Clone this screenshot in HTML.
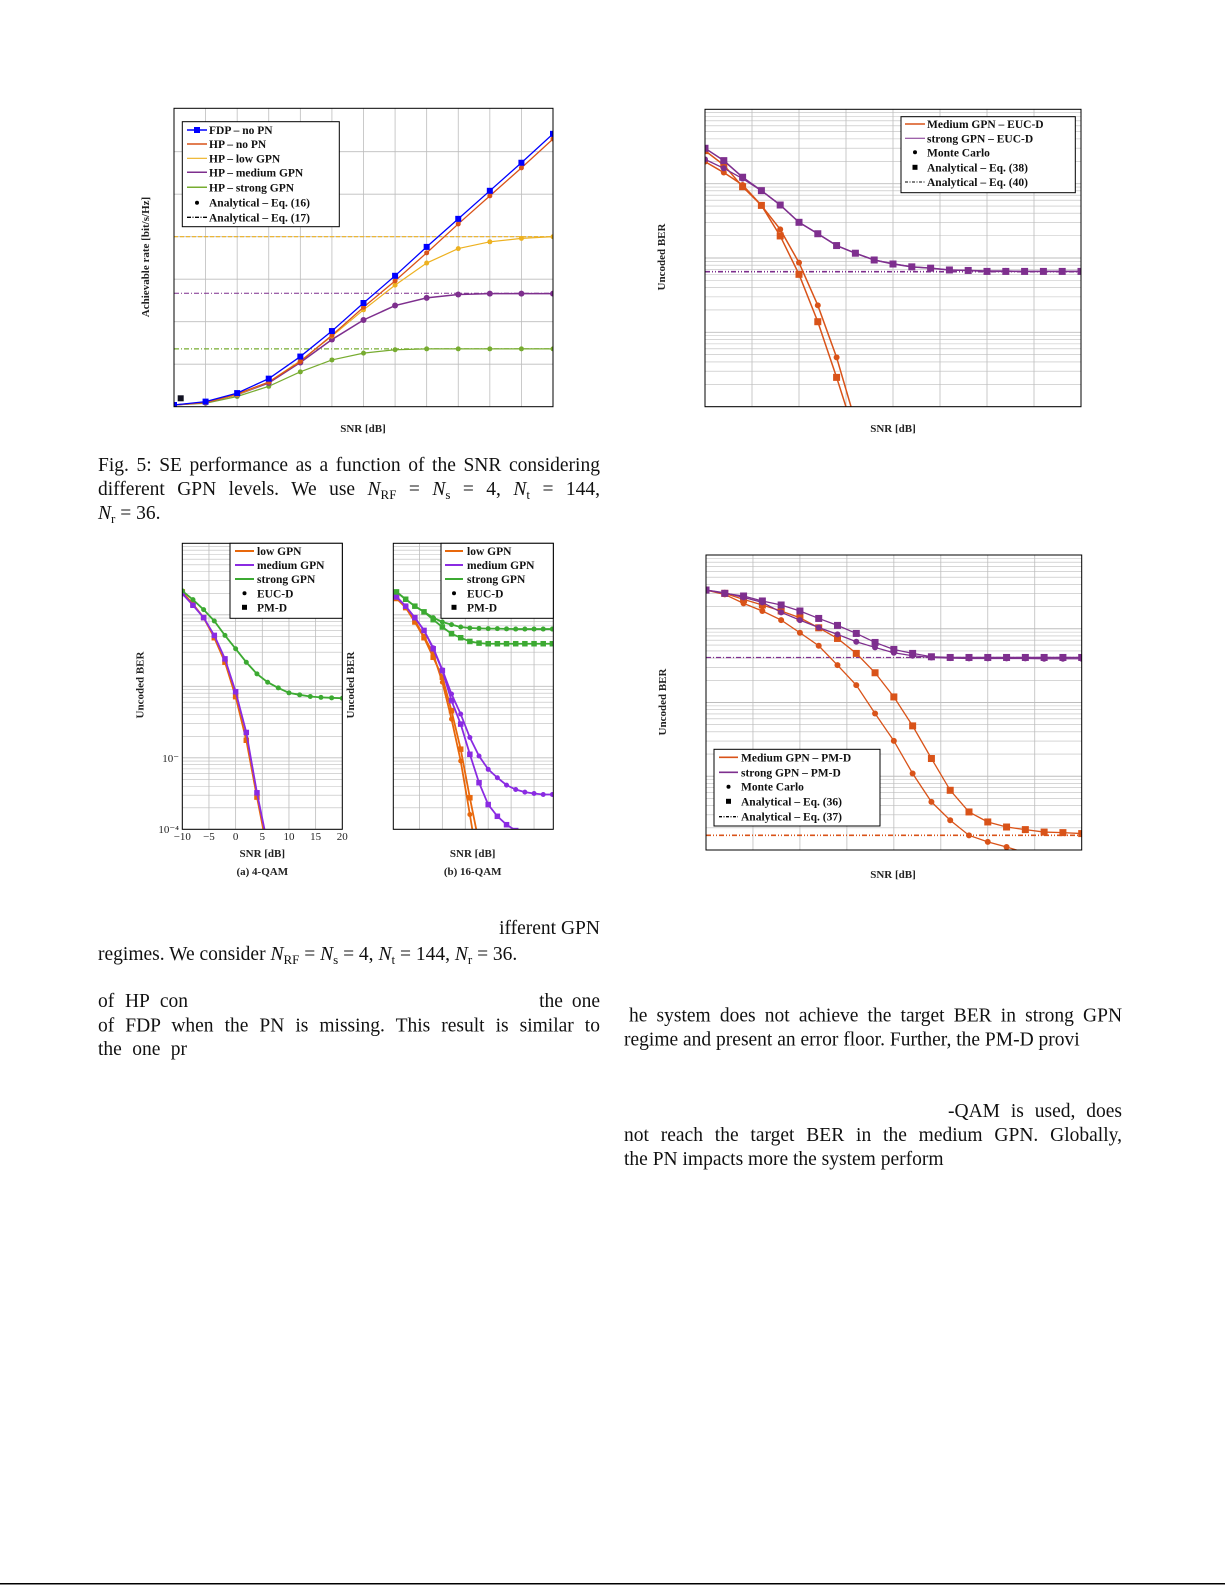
<!DOCTYPE html>
<html><head><meta charset="utf-8">
<style>
html,body{margin:0;padding:0;background:#fff;}
#page{position:relative;width:1225px;height:1585px;overflow:hidden;}
svg text{font-family:"Liberation Serif",serif;}
.body{font-size:19.5px;fill:#111;}
.lg{font-size:11.5px;font-weight:bold;fill:#111;}
.ax{font-size:11px;font-weight:bold;fill:#222;}
.tk{font-size:11px;fill:#222;}
</style></head>
<body>
<div id="page">
<svg id="svg" width="1225" height="1585" viewBox="0 0 1225 1585" xmlns="http://www.w3.org/2000/svg">
<defs>
<clipPath id="clip1"><rect x="174" y="108.3" width="379" height="298.4"/></clipPath>
<clipPath id="clip2"><rect x="705" y="109.3" width="376" height="297.4"/></clipPath>
<clipPath id="clip3a"><rect x="182.3" y="543.3" width="160" height="286"/></clipPath>
<clipPath id="clip3b"><rect x="393.3" y="543.3" width="160" height="286"/></clipPath>
<clipPath id="clip4"><rect x="706" y="555" width="375.7" height="295"/></clipPath>
</defs>
<g id="g1"></g>
<g id="g2"></g>
<g id="g3a"></g>
<g id="g3b"></g>
<g id="g4"></g>

<g>
<text class="body jst" data-w="502" x="98" y="471">Fig. 5: SE performance as a function of the SNR considering</text>
<text class="body jst" data-w="502" x="98" y="495">different GPN levels. We use <tspan font-style="italic">N</tspan><tspan font-size="13" dy="4">RF</tspan><tspan dy="-4"> = </tspan><tspan font-style="italic">N</tspan><tspan font-size="13" dy="4">s</tspan><tspan dy="-4"> = 4, </tspan><tspan font-style="italic">N</tspan><tspan font-size="13" dy="4">t</tspan><tspan dy="-4"> = 144,</tspan></text>
<text class="body" x="98" y="519"><tspan font-style="italic">N</tspan><tspan font-size="13" dy="4">r</tspan><tspan dy="-4"> = 36.</tspan></text>
</g>
<g>
<text class="body" x="600" y="934" text-anchor="end">ifferent GPN</text>
<text class="body" x="98" y="960">regimes. We consider <tspan font-style="italic">N</tspan><tspan font-size="13" dy="4">RF</tspan><tspan dy="-4"> = </tspan><tspan font-style="italic">N</tspan><tspan font-size="13" dy="4">s</tspan><tspan dy="-4"> = 4, </tspan><tspan font-style="italic">N</tspan><tspan font-size="13" dy="4">t</tspan><tspan dy="-4"> = 144, </tspan><tspan font-style="italic">N</tspan><tspan font-size="13" dy="4">r</tspan><tspan dy="-4"> = 36.</tspan></text>
</g>
<g>
<text class="body jst" data-w="90" x="98" y="1007">of HP con</text>
<text class="body" x="600" y="1007" text-anchor="end" word-spacing="4">the one</text>
<text class="body jst" data-w="502" x="98" y="1031.5">of FDP when the PN is missing. This result is similar to</text>
<text class="body jst" data-w="89" x="98" y="1055">the one pr</text>
</g>
<g>
<text class="body jst" data-w="493" x="629" y="1021.5">he system does not achieve the target BER in strong GPN</text>
<text class="body" x="624" y="1045.5">regime and present an error floor. Further, the PM-D provi</text>
<text class="body jst" data-w="174" x="948" y="1117">-QAM is used, does</text>
<text class="body jst" data-w="498" x="624" y="1141">not reach the target BER in the medium GPN. Globally,</text>
<text class="body" x="624" y="1165">the PN impacts more the system perform</text>
</g>
<line x1="0" y1="1583.7" x2="1225" y2="1583.7" stroke="#000" stroke-width="1.5"/>
</svg>
</div>
<script>
// ===== Chart 1 data (achievable rate) =====
const snr1 = [-20,-15,-10,-5,0,5,10,15,20,25,30,35,40];
const rateFDP = [0.2,0.6,1.6,3.3,5.9,8.9,12.2,15.4,18.8,22.1,25.4,28.7,32.1];
const rateHPnoPN = [0.2,0.5,1.5,2.9,5.3,8.4,11.7,14.8,18.1,21.5,24.8,28.1,31.5];
const rateLow = [0.2,0.5,1.4,2.9,5.4,8.3,11.4,14.3,16.9,18.6,19.4,19.8,20.0];
const rateMed = [0.2,0.5,1.4,2.8,5.2,7.9,10.2,11.9,12.8,13.2,13.3,13.3,13.3];
const rateStrong = [0.2,0.4,1.2,2.4,4.1,5.5,6.3,6.7,6.8,6.8,6.8,6.8,6.8];
const rateAsym = [20.0,13.35,6.8];
const rateTicks = [5,10,15,20,25,30];

// ===== Chart 2 data (EUC-D BER) =====
const snr2 = [0,2,4,6,8,10,12,14,16,18,20,22,24,26,28,30,32,34,36,38,40];
const berStrongMC = [0.212,0.161,0.117,0.0805,0.0516,0.0302,0.0212,0.0147,0.0116,0.0094,0.0084,0.0076,0.0073,0.0069,0.0068,0.0067,0.0067,0.0066,0.0066,0.0066,0.0066];
const berStrongAn = [0.299,0.204,0.122,0.0805,0.0516,0.0302,0.0212,0.0147,0.0116,0.0094,0.0083,0.0076,0.0073,0.0069,0.0068,0.0066,0.0066,0.0066,0.0066,0.0066,0.0066];
const berMedMC = [0.198,0.141,0.096,0.051,0.0243,0.00865,0.00231,0.00046,0.000063];
const berMedAn = [0.278,0.178,0.091,0.051,0.0198,0.00603,0.00139,0.000248,0.00004];
const berFloor2 = [0.00655];

// ===== Chart 3a data (4-QAM) =====
const snr3a = [-10,-8,-6,-4,-2,0,2,4,6,8,10,12,14,16,18,20];
const qam4Strong = [0.216,0.163,0.118,0.0819,0.0515,0.0335,0.0217,0.0149,0.0114,0.0095,0.0081,0.0076,0.0072,0.0070,0.0069,0.0068];
const qam4Low = [0.209,0.141,0.0912,0.0478,0.0217,0.00716,0.00176,0.000282,0.000049];
const qam4Med = [0.198,0.136,0.0912,0.0515,0.0242,0.0084,0.00226,0.000324,0.000061];
const qam4Ticks = [-10,-5,0,5,10,15,20];

// ===== Chart 3b data (16-QAM) =====
const snr3b = [-10,-8,-6,-4,-2,0,2,4,6,8,10,12,14,16,18,20,22,24];
const qam16StrongEuc = [0.209,0.165,0.132,0.110,0.0912,0.0793,0.0728,0.0675,0.0653,0.0646,0.0640,0.0640,0.0636,0.0632,0.0632,0.0632,0.0632,0.0632];
const qam16StrongPm = [0.209,0.165,0.132,0.110,0.0855,0.0675,0.0543,0.0478,0.0424,0.0402,0.0394,0.0394,0.0394,0.0394,0.0394,0.0394,0.0394,0.0394];
const qam16LowEuc = [0.178,0.132,0.0837,0.0499,0.0285,0.0114,0.00348,0.000903,0.000161,0.000027];
const qam16LowPm = [0.169,0.126,0.0793,0.0478,0.0255,0.0134,0.00455,0.00132,0.000276,0.000064];
const qam16MedEuc = [0.178,0.132,0.0912,0.0605,0.0346,0.0170,0.0078,0.00409,0.00192,0.00106,0.00069,0.000526,0.000415,0.000360,0.000331,0.000317,0.000307,0.000307];
const qam16MedPm = [0.178,0.132,0.0912,0.0605,0.0335,0.0166,0.0063,0.00296,0.00112,0.000448,0.000222,0.000152,0.000116,0.000096];

// ===== Chart 4 data (PM-D BER) =====
const snr4 = [0,2,4,6,8,10,12,14,16,18,20,22,24,26,28,30,32,34,36,38,40];
const pmStrongMC = [0.335,0.308,0.266,0.228,0.167,0.131,0.104,0.0838,0.0667,0.0558,0.0472,0.0430,0.0408,0.0400,0.0396,0.0396,0.0396,0.0396,0.0392,0.0392,0.0392];
const pmStrongAn = [0.335,0.302,0.278,0.238,0.210,0.174,0.138,0.111,0.0864,0.0652,0.0524,0.0463,0.0417,0.0408,0.0408,0.0408,0.0408,0.0408,0.0408,0.0408,0.0408];
const pmMedMC = [0.335,0.292,0.221,0.174,0.131,0.0883,0.0588,0.0321,0.0172,0.0071,0.00302,0.00109,0.000449,0.000253,0.000158,0.000129,0.00011,0.000092];
const pmMedAn = [0.335,0.302,0.250,0.210,0.174,0.141,0.103,0.0739,0.0463,0.0253,0.0119,0.00482,0.00174,0.000645,0.000328,0.000240,0.000205,0.000189,0.000175,0.000172,0.000167];
const pmFloors = [0.0408,0.000158];

const NS='http://www.w3.org/2000/svg';
function mk(tag,parent){const e=document.createElementNS(NS,tag);parent.appendChild(e);return e;}
function lin(d0,d1,p0,p1){return v=>p0+(v-d0)/(d1-d0)*(p1-p0);}
function logy(top,decPx){return v=>top+(-Math.log10(v))*decPx;}

function frame(g,x0,y0,x1,y1){
  const r=mk('rect',g);
  
  
  r.setAttribute('x',x0);r.setAttribute('y',y0);r.setAttribute('width',x1-x0);r.setAttribute('height',y1-y0);
  r.setAttribute('fill','none');r.setAttribute('stroke','#000');r.setAttribute('stroke-width','1');
}
function gline(g,x1,y1,x2,y2,w){
  const l=mk('line',g);
  
  
  l.setAttribute('x1',x1);l.setAttribute('y1',y1);l.setAttribute('x2',x2);l.setAttribute('y2',y2);
  l.setAttribute('stroke','#bdbdbd');l.setAttribute('stroke-width',w||0.8);
}
function vgrid(g,xs,X,y0,y1){xs.forEach(v=>gline(g,X(v),y0,X(v),y1));}
function loggrid(g,Y,x0,x1,decs){
  decs.forEach(d=>{for(let m=1;m<10;m++){const y=Y(m*Math.pow(10,d));gline(g,x0,y,x1,y,m===1?0.9:0.6);}});
}
function series(g,clip,xs,ys,X,Y,color,w,marker,ms,name,dash){
  const grp=mk('g',g);
  
  
  if(clip)grp.setAttribute('clip-path','url(#'+clip+')');
  const p=mk('polyline',grp);
  
  
  const pts=ys.map((v,i)=>X(xs[i]).toFixed(2)+','+Y(v).toFixed(2)).join(' ');
  p.setAttribute('points',pts);p.setAttribute('fill','none');p.setAttribute('stroke',color);p.setAttribute('stroke-width',w);
  if(dash)p.setAttribute('stroke-dasharray',dash);
  if(!marker)return;
  ys.forEach((v,i)=>{
    const x=X(xs[i]),y=Y(v);let m;
    if(marker==='s'){m=mk('rect',grp);m.setAttribute('x',x-ms/2);m.setAttribute('y',y-ms/2);m.setAttribute('width',ms);m.setAttribute('height',ms);}
    else{m=mk('circle',grp);m.setAttribute('cx',x);m.setAttribute('cy',y);m.setAttribute('r',ms/2);}
    
    
    m.setAttribute('fill',color);
  });
}
function hline(g,y,x0,x1,color,w,dash,name){
  const l=mk('line',g);
  
  
  l.setAttribute('x1',x0);l.setAttribute('x2',x1);l.setAttribute('y1',y);l.setAttribute('y2',y);
  l.setAttribute('stroke',color);l.setAttribute('stroke-width',w);l.setAttribute('stroke-dasharray',dash);
}
function txt(g,x,y,s,cls,name,anchor,rot){
  const t=mk('text',g);
  
  
  t.setAttribute('x',x);t.setAttribute('y',y);t.setAttribute('class',cls);
  if(anchor)t.setAttribute('text-anchor',anchor);
  if(rot)t.setAttribute('transform','rotate(-90 '+x+' '+y+')');
  t.textContent=s;return t;
}
function legend(g,x0,y0,x1,y1,items,sx0,sx1,tx){
  const lg=mk('g',g);
  
  
  const r=mk('rect',lg);
  
  
  r.setAttribute('x',x0);r.setAttribute('y',y0);r.setAttribute('width',x1-x0);r.setAttribute('height',y1-y0);
  r.setAttribute('fill','#fff');r.setAttribute('stroke','#000');r.setAttribute('stroke-width','1');
  items.forEach(it=>{
    const e=mk('g',lg);
    
    
    const y=it.y;
    if(it.line){const l=mk('line',e);l.setAttribute('x1',sx0);l.setAttribute('x2',sx1);l.setAttribute('y1',y);l.setAttribute('y2',y);l.setAttribute('stroke',it.line);l.setAttribute('stroke-width',it.w||1.5);if(it.dash)l.setAttribute('stroke-dasharray',it.dash);}
    const cx=(sx0+sx1)/2;
    if(it.m==='s'){const m=mk('rect',e);m.setAttribute('x',cx-it.ms/2);m.setAttribute('y',y-it.ms/2);m.setAttribute('width',it.ms);m.setAttribute('height',it.ms);m.setAttribute('fill',it.mc||'#000');}
    if(it.m==='c'){const m=mk('circle',e);m.setAttribute('cx',cx);m.setAttribute('cy',y);m.setAttribute('r',it.ms/2);m.setAttribute('fill',it.mc||'#000');}
    const t=mk('text',e);t.setAttribute('x',tx);t.setAttribute('y',y+4);t.setAttribute('class','lg');t.textContent=it.t;
  });
}

const OR='#D95319',PU='#7E2F8E',YE='#EDB120',GR='#77AC30',BL='#0000FF';
const OR3='#E8680C',PU3='#8A2BE2',GR3='#3CAA32';

// ---- Chart 1
(function(){
  const g=document.getElementById('g1');
  const X=lin(-20,40,174,553), Y=v=>406.7-v*8.5;
  vgrid(g,snr1,X,108.3,406.7);
  rateTicks.forEach(v=>gline(g,174,Y(v),553,Y(v)));
  hline(g,Y(rateAsym[0]),174,553,YE,1.2,'4 2','asymptote-low');
  hline(g,Y(rateAsym[1]),174,553,PU,1,'5 2 1 2','asymptote-medium');
  hline(g,Y(rateAsym[2]),174,553,GR,1.2,'5 2 1 2','asymptote-strong');
  series(g,'clip1',snr1,rateStrong,X,Y,GR,1.2,'c',5,'series-hp-strong');
  series(g,'clip1',snr1,rateMed,X,Y,PU,1.5,'c',6,'series-hp-medium');
  series(g,'clip1',snr1,rateLow,X,Y,YE,1.2,'c',5,'series-hp-low');
  series(g,'clip1',snr1,rateHPnoPN,X,Y,OR,1.3,'c',5,'series-hp-nopn');
  series(g,'clip1',snr1,rateFDP,X,Y,BL,1.3,'s',6,'series-fdp');
  const sq=mk('rect',g);
  
  
  sq.setAttribute('x',177.7);sq.setAttribute('y',395.3);sq.setAttribute('width',6);sq.setAttribute('height',6);sq.setAttribute('fill','#112');
  frame(g,174,108.3,553,406.7);
  legend(g,182.3,121.7,339.3,226.7,[
    {y:130,line:BL,m:'s',ms:6,mc:BL,t:'FDP – no PN'},
    {y:144,line:OR,t:'HP – no PN'},
    {y:158.3,line:YE,w:1.2,t:'HP – low GPN'},
    {y:172.3,line:PU,t:'HP – medium GPN'},
    {y:187.3,line:GR,t:'HP – strong GPN'},
    {y:202.7,m:'c',ms:4,t:'Analytical – Eq. (16)'},
    {y:217.3,line:'#000',dash:'4 1.5 1 1.5',w:1.3,t:'Analytical – Eq. (17)'}
  ],187,207,209);
  txt(g,149,257,'Achievable rate [bit/s/Hz]','ax','y-axis-title','middle',true);
  txt(g,363,432,'SNR [dB]','ax','x-axis-title','middle');
})();

// ---- Chart 2
(function(){
  const g=document.getElementById('g2');
  const X=lin(0,40,705,1081), Y=logy(109.3,74.35);
  loggrid(g,Y,705,1081,[-4,-3,-2,-1]);
  vgrid(g,[5,10,15,20,25,30,35],X,109.3,406.7);
  hline(g,Y(berFloor2[0]),705,1081,PU,1.6,'5 2 1 2 1 2','asymptote-eq40');
  series(g,'clip2',snr2,berMedMC,X,Y,OR,1.5,'c',6,'series-medium-mc');
  series(g,'clip2',snr2,berMedAn,X,Y,OR,1.5,'s',7,'series-medium-analytical');
  series(g,'clip2',snr2,berStrongMC,X,Y,PU,1.3,'c',6,'series-strong-mc');
  series(g,'clip2',snr2,berStrongAn,X,Y,PU,1.5,'s',7,'series-strong-analytical');
  frame(g,705,109.3,1081,406.7);
  legend(g,901,116.7,1075.3,192.7,[
    {y:124,line:OR,w:1.6,t:'Medium GPN – EUC-D'},
    {y:138.3,line:PU,w:1,t:'strong GPN – EUC-D'},
    {y:152.3,m:'c',ms:4,t:'Monte Carlo'},
    {y:167.3,m:'s',ms:5,t:'Analytical – Eq. (38)'},
    {y:182,line:'#000',dash:'3 1.5 1 1.5',w:1,t:'Analytical – Eq. (40)'}
  ],905,925,927);
  txt(g,665,257,'Uncoded BER','ax','y-axis-title','middle',true);
  txt(g,893,432,'SNR [dB]','ax','x-axis-title','middle');
})();

// ---- Chart 3a
(function(){
  const g=document.getElementById('g3a');
  const X=lin(-10,20,182.3,342.3), Y=logy(543.3,71.5);
  loggrid(g,Y,182.3,342.3,[-4,-3,-2,-1]);
  vgrid(g,qam4Ticks,X,543.3,829.3);
  series(g,'clip3a',snr3a,qam4Low,X,Y,OR3,1.8,'s',5.5,'series-4qam-low');
  series(g,'clip3a',snr3a,qam4Med,X,Y,PU3,1.8,'s',5.5,'series-4qam-medium');
  series(g,'clip3a',snr3a,qam4Strong,X,Y,GR3,1.8,'c',5,'series-4qam-strong');
  frame(g,182.3,543.3,342.3,829.3);
  legend(g,230,543.3,342.3,618.3,[
    {y:551,line:OR3,w:2,t:'low GPN'},
    {y:565,line:PU3,w:2,t:'medium GPN'},
    {y:579,line:GR3,w:2,t:'strong GPN'},
    {y:593.3,m:'c',ms:4,t:'EUC-D'},
    {y:607.3,m:'s',ms:5,t:'PM-D'}
  ],235,254,257);
  qam4Ticks.forEach(v=>txt(g,X(v),840,(v<0?'−':'')+Math.abs(v),'tk','x-tick-label','middle'));
  txt(g,179,762,'10⁻','tk','y-tick-label','end');
  txt(g,179,833,'10⁻⁴','tk','y-tick-label','end');
  txt(g,143.5,685,'Uncoded BER','ax','y-axis-title','middle',true);
  txt(g,262.3,857,'SNR [dB]','ax','x-axis-title','middle');
  txt(g,262.3,875,'(a) 4-QAM','ax','subcaption-a','middle');
})();

// ---- Chart 3b
(function(){
  const g=document.getElementById('g3b');
  const X=lin(-10.7,24.2,393.3,553.3), Y=logy(543.3,71.5);
  loggrid(g,Y,393.3,553.3,[-4,-3,-2,-1]);
  vgrid(g,[-5,0,5,10,15,20],X,543.3,829.3);
  series(g,'clip3b',snr3b,qam16LowEuc,X,Y,OR3,1.8,'c',5,'series-16qam-low-euc');
  series(g,'clip3b',snr3b,qam16LowPm,X,Y,OR3,1.8,'s',5.5,'series-16qam-low-pm');
  series(g,'clip3b',snr3b,qam16MedEuc,X,Y,PU3,1.8,'c',5,'series-16qam-medium-euc');
  series(g,'clip3b',snr3b,qam16MedPm,X,Y,PU3,1.8,'s',5.5,'series-16qam-medium-pm');
  series(g,'clip3b',snr3b,qam16StrongEuc,X,Y,GR3,1.8,'c',5,'series-16qam-strong-euc');
  series(g,'clip3b',snr3b,qam16StrongPm,X,Y,GR3,1.8,'s',5.5,'series-16qam-strong-pm');
  frame(g,393.3,543.3,553.3,829.3);
  legend(g,441,543.3,553.3,618.3,[
    {y:551,line:OR3,w:2,t:'low GPN'},
    {y:565,line:PU3,w:2,t:'medium GPN'},
    {y:579,line:GR3,w:2,t:'strong GPN'},
    {y:593.3,m:'c',ms:4,t:'EUC-D'},
    {y:607.3,m:'s',ms:5,t:'PM-D'}
  ],445,463,467);
  txt(g,354,685,'Uncoded BER','ax','y-axis-title','middle',true);
  txt(g,472.7,857,'SNR [dB]','ax','x-axis-title','middle');
  txt(g,472.7,875,'(b) 16-QAM','ax','subcaption-b','middle');
})();

// ---- Chart 4
(function(){
  const g=document.getElementById('g4');
  const X=lin(0,40,706,1081.7), Y=logy(555,73.75);
  loggrid(g,Y,706,1081.7,[-4,-3,-2,-1]);
  vgrid(g,[5,10,15,20,25,30,35],X,555,850);
  hline(g,Y(pmFloors[0]),706,1081.7,PU,1.2,'5 2 1 2','asymptote-strong');
  hline(g,Y(pmFloors[1]),706,1081.7,OR,1.6,'5 2 1 2 1 2','asymptote-medium');
  series(g,'clip4',snr4,pmMedMC,X,Y,OR,1.3,'c',6,'series-medium-mc');
  series(g,'clip4',snr4,pmMedAn,X,Y,OR,1.3,'s',7,'series-medium-analytical');
  series(g,'clip4',snr4,pmStrongMC,X,Y,PU,1.3,'c',6,'series-strong-mc');
  series(g,'clip4',snr4,pmStrongAn,X,Y,PU,1.3,'s',7,'series-strong-analytical');
  frame(g,706,555,1081.7,850);
  legend(g,714,749.3,880,826,[
    {y:757.3,line:OR,w:1.6,t:'Medium GPN – PM-D'},
    {y:772.3,line:PU,w:1.6,t:'strong GPN – PM-D'},
    {y:786.7,m:'c',ms:4,t:'Monte Carlo'},
    {y:801.3,m:'s',ms:5,t:'Analytical – Eq. (36)'},
    {y:816.7,line:'#000',dash:'3 1.5 1 1.5',w:1.3,t:'Analytical – Eq. (37)'}
  ],719,738,741);
  txt(g,666,702,'Uncoded BER','ax','y-axis-title','middle',true);
  txt(g,893,878,'SNR [dB]','ax','x-axis-title','middle');
})();

// justify lines via word-spacing
document.querySelectorAll('text.jst').forEach(t=>{
  const w=+t.getAttribute('data-w');
  const len=t.getComputedTextLength();
  const spaces=(t.textContent.match(/ /g)||[]).length;
  if(spaces>0&&w>len)t.setAttribute('word-spacing',((w-len)/spaces).toFixed(2));
});
</script>
</body></html>
